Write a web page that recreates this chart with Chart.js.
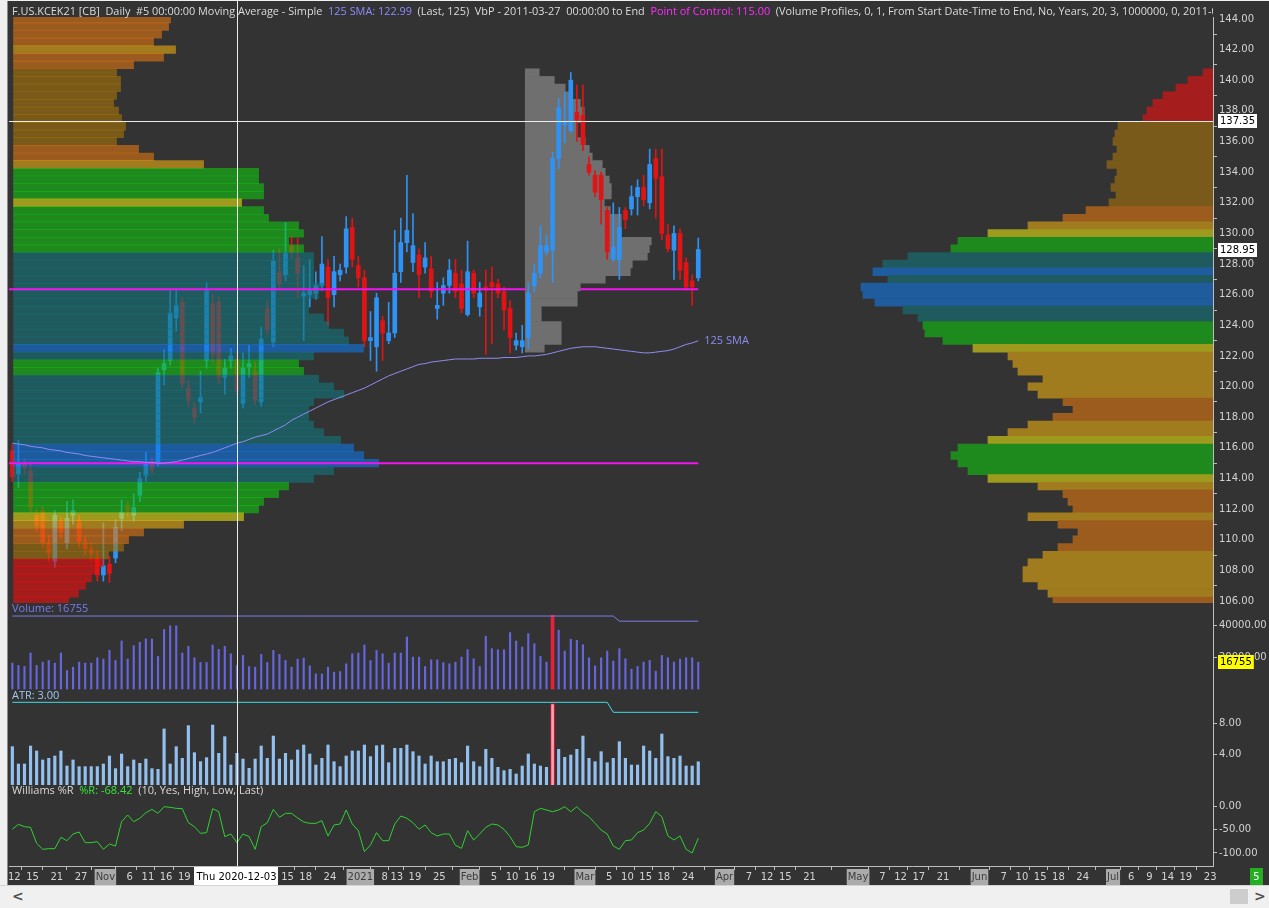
<!DOCTYPE html>
<html>
<head>
<meta charset="utf-8">
<script src="https://cdn.jsdelivr.net/npm/chart.js@4.4.0/dist/chart.umd.min.js"></script>
<style>
  html, body { margin: 0; padding: 0; background: #f0f0f0; }
  #wrap { position: relative; width: 1269px; height: 908px; overflow: hidden; }
  #chart { position: absolute; left: 0; top: 0; display: block; }
  #strip { position: absolute; left: 0; top: 885px; width: 1269px; height: 23px; background: #f0f0f0; border-top: 1px solid #d4d4d4; box-sizing: border-box; }
  #strip .arr { position: absolute; top: 2px; font: bold 14px "DejaVu Sans", sans-serif; color: #505050; }
  #strip .thumb { position: absolute; left: 1230px; top: 3px; width: 18px; height: 15px; background: #cdcdcd; }
</style>
</head>
<body>
<div id="wrap">
  <canvas id="chart" width="1269" height="885"></canvas>
  <div id="strip"><span class="arr" style="left:12px">&lt;</span><div class="thumb"></div><span class="arr" style="left:1254px">&gt;</span></div>
</div>
<script>
// KC May 2021 daily bars, 2020-10-12 .. 2021-03-26
const candleOpen = [
  115.8,114.3,115.0,114.5,111.6,111.9,109.8,108.6,111.2,109.8,
  111.6,111.2,109.8,109.4,108.8,107.7,108.4,108.8,111.4,112.2,
  111.6,112.9,114.2,115.1,115.0,121.1,121.7,124.5,125.5,119.9,
  118.6,119.0,121.7,125.4,125.5,120.6,121.7,121.8,118.9,121.3,
  121.0,119.0,125.1,122.9,127.5,127.3,129.2,128.4,125.9,126.0,
  126.1,126.6,127.8,126.0,127.3,127.8,130.4,127.9,127.1,123.0,
  122.6,124.3,123.0,123.5,127.5,129.4,128.1,128.6,127.8,127.7,
  125.1,126.1,126.6,127.4,126.7,124.7,127.4,125.2,126.5,126.8,
  126.7,126.2,125.1,122.7,122.6,123.2,126.6,127.4,128.8,128.9,
  134.9,137.1,136.7,137.9,137.7,134.5,133.8,133.8,131.5,128.3,
  128.3,131.5,131.6,132.4,133.0,132.0,134.9,133.7,129.9,128.9,
  130.0,128.1,126.9,127.1];
const candleHigh = [
  116.2,116.5,115.3,115.1,112.0,112.2,110.3,111.9,111.5,112.5,
  112.6,111.6,110.2,109.8,109.3,111.1,108.9,111.3,112.6,112.5,
  113.0,114.4,115.7,115.4,121.2,122.4,126.4,126.4,125.8,120.4,
  119.0,121.0,126.8,126.0,125.9,121.8,122.5,122.3,122.2,122.7,
  121.6,123.9,125.6,128.9,129.0,130.7,129.8,129.7,127.9,128.3,
  127.5,129.8,128.3,128.5,128.0,131.1,131.0,128.5,127.6,124.9,
  126.1,124.6,125.5,130.2,131.0,133.8,131.3,129.0,129.4,128.5,
  126.8,127.1,128.3,128.3,127.6,129.5,127.6,126.8,127.6,127.8,
  127.0,126.5,125.6,123.5,124.0,126.8,128.0,130.5,129.9,135.3,
  138.8,139.2,140.5,139.7,139.7,135.0,134.1,134.0,131.7,132.0,
  131.7,131.7,133.1,133.5,133.8,135.5,135.5,135.5,130.6,130.5,
  130.3,128.4,127.3,129.7];
const candleLow = [
  113.8,113.4,114.3,111.8,110.5,109.5,108.6,108.2,110.1,109.4,
  111.0,109.5,109.0,108.6,107.3,107.3,107.2,108.5,110.6,111.5,
  111.2,112.5,113.8,114.3,114.8,120.1,121.4,123.6,119.9,118.7,
  117.6,118.3,121.2,121.6,120.2,119.5,121.2,119.4,118.6,120.6,
  118.8,118.7,123.4,122.6,126.3,126.9,128.4,125.8,123.0,125.2,
  125.7,126.3,124.0,125.2,126.9,127.4,127.8,126.5,122.6,121.7,
  121.0,121.7,122.8,123.2,126.8,128.8,127.5,125.8,127.4,125.8,
  124.4,125.3,126.1,125.8,124.8,124.6,125.8,124.6,122.1,122.8,
  125.8,123.7,122.2,122.4,122.2,122.5,126.2,127.1,128.6,126.8,
  134.2,135.9,136.6,136.0,135.4,133.8,132.4,130.6,128.3,128.2,
  127.0,130.3,131.2,131.2,131.8,131.6,131.0,129.6,128.8,127.0,
  127.0,126.3,125.3,126.9];
const candleClose = [
  114.1,115.0,114.7,112.1,110.9,109.8,109.1,111.6,110.5,111.4,
  111.9,109.9,109.4,109.1,107.7,108.3,107.8,110.8,111.8,111.9,
  112.1,114.0,115.0,114.6,120.9,121.5,124.8,125.3,120.2,119.1,
  118.0,119.3,126.3,122.1,120.6,121.2,122.0,119.7,121.2,121.5,
  119.1,123.1,123.7,128.2,126.7,128.7,128.8,127.4,126.1,126.3,
  126.6,128.0,125.8,127.5,127.6,130.3,128.3,127.1,123.0,123.2,
  125.8,123.5,123.5,127.4,129.4,130.2,129.2,127.3,128.4,126.2,
  125.3,126.6,127.6,126.2,125.1,127.5,126.1,126.1,126.3,126.5,
  126.1,125.0,123.2,123.0,123.0,126.1,127.4,129.2,129.2,134.9,
  138.2,137.3,140.0,137.4,135.8,134.0,132.7,132.2,128.8,129.1,
  130.4,130.9,132.4,133.0,132.2,134.5,133.6,130.0,129.0,130.0,
  127.6,126.5,126.5,128.95];

// 125 SMA
const sma125 = [
  116.3,116.25,116.2,116.1,116.05,116.0,115.9,115.85,115.8,115.7,
  115.65,115.6,115.5,115.45,115.4,115.35,115.3,115.25,115.2,115.15,
  115.1,115.1,115.05,115.05,115.0,115.0,115.05,115.1,115.2,115.3,
  115.4,115.5,115.6,115.7,115.85,116.0,116.15,116.3,116.4,116.55,
  116.7,116.8,116.9,117.1,117.3,117.5,117.8,118.0,118.2,118.4,
  118.6,118.8,119.0,119.15,119.3,119.45,119.6,119.75,119.9,120.1,
  120.3,120.5,120.7,120.85,121.0,121.15,121.3,121.45,121.5,121.6,
  121.65,121.7,121.75,121.8,121.8,121.8,121.8,121.85,121.85,121.85,
  121.85,121.9,121.9,121.9,121.95,122.0,122.0,122.05,122.1,122.2,
  122.3,122.4,122.5,122.55,122.6,122.6,122.6,122.55,122.5,122.45,
  122.4,122.35,122.3,122.25,122.2,122.2,122.25,122.3,122.35,122.45,
  122.6,122.75,122.85,122.99];

const volume = [
  16170,14700,14070,22470,14700,16800,17850,16170,22470,11550,
  13650,16800,16170,16170,19530,18690,24150,17850,30030,18690,
  27090,29190,31290,31290,20370,37170,39480,39480,22470,26670,
  19530,16590,16590,27510,24780,26670,22050,14700,21000,14070,
  13650,21630,16590,24150,21630,17850,13650,18690,19320,14490,
  9450,9450,13650,10500,10920,15750,22050,22470,27510,17850,
  24150,22050,16170,22470,22470,32550,19950,19950,14070,18270,
  18270,16590,15750,16800,19950,24570,18900,14070,32970,25200,
  24570,24570,35280,30030,26250,34650,28350,20370,16800,46000,
  36750,23730,31080,30450,27720,19530,14490,19530,23730,17430,
  25200,18900,12390,14070,16800,17850,11130,21000,19530,16800,
  18690,19530,19530,16755];
const volLimitX = [0, 99, 100, 113];
const volLimitY = [45600, 45600, 42400, 42400];

const atr = [
  4.95,2.71,2.71,5.03,4.39,3.23,3.44,3.74,4.39,2.45,
  3.23,2.37,2.37,2.37,2.37,2.71,3.74,2.11,4.00,2.37,
  3.23,2.80,3.35,2.11,2.02,7.23,2.71,4.95,3.44,7.66,
  4.17,3.01,3.53,7.74,4.09,6.24,2.58,4.09,3.35,2.15,
  3.35,5.03,3.44,6.32,3.35,4.09,3.23,4.52,5.16,4.00,
  2.58,3.44,5.16,3.01,2.37,3.74,4.39,4.39,5.16,3.66,
  5.07,5.16,2.88,4.73,4.73,5.16,4.30,3.74,2.71,3.74,
  3.01,3.01,3.31,3.44,2.88,5.03,3.01,2.37,4.60,3.44,
  2.28,1.85,2.02,1.42,2.45,4.00,2.71,2.45,2.28,10.50,
  4.60,3.57,3.87,4.60,6.32,3.44,3.01,4.30,2.88,3.44,
  5.59,3.44,2.58,2.58,5.03,4.39,3.44,6.58,3.66,3.44,
  3.74,2.45,2.45,3.00];
const atrLimitX = [0, 98, 99, 113];
const atrLimitY = [10.67, 10.67, 9.38, 9.38];

const willR = [
  -49.6,-39.0,-44.0,-45.4,-79.4,-92.2,-90.8,-90.8,-66.7,-73.8,
  -59.6,-55.3,-78.0,-78.0,-75.9,-92.2,-80.9,-85.1,-33.3,-19.1,
  -33.3,-26.2,-14.2,-7.1,-15.6,-1.4,-2.8,-5.0,-5.7,-35.5,
  -44.0,-58.2,-56.7,-5.7,-12.1,-65.2,-59.6,-78.0,-59.6,-65.2,
  -92.2,-44.0,-35.5,-7.1,-24.1,-15.6,-15.6,-25.5,-34.0,-36.9,
  -36.9,-31.2,-63.8,-40.4,-38.3,-8.5,-38.3,-52.5,-97.2,-83.0,
  -56.7,-73.8,-73.8,-38.3,-21.3,-26.2,-35.5,-49.6,-40.4,-56.7,
  -63.8,-59.6,-59.6,-83.7,-90.1,-52.5,-72.3,-59.6,-45.4,-38.3,
  -40.4,-49.6,-65.2,-86.5,-87.9,-83.0,-12.1,-5.0,-8.5,-12.1,
  -8.5,-1.4,-12.1,-1.4,-14.2,-22.7,-36.9,-51.1,-59.6,-85.1,
  -92.2,-73.8,-72.3,-56.7,-51.1,-36.9,-12.1,-22.7,-63.8,-72.3,
  -63.8,-92.2,-100.0,-68.42];

// volume-by-price rows, top to bottom
const profileLevels = [
  144.5,144,143.5,143,142.5,142,141.5,141,140.5,140,
  139.5,139,138.5,138,137.5,137,136.5,136,135.5,135,
  134.5,134,133.5,133,132.5,132,131.5,131,130.5,130,
  129.5,129,128.5,128,127.5,127,126.5,126,125.5,125,
  124.5,124,123.5,123,122.5,122,121.5,121,120.5,120,
  119.5,119,118.5,118,117.5,117,116.5,116,115.5,115,
  114.5,114,113.5,113,112.5,112,111.5,111,110.5,110,
  109.5,109,108.5,108,107.5,107,106.5,106];
// whole period profile (left)
const profileAll = [
  155,157,155,148,140,162,150,120,103,107,
  107,103,100,105,108,112,110,103,125,140,
  190,245,245,250,250,228,250,255,285,290,
  275,290,300,300,300,300,310,305,295,295,
  310,315,330,335,350,300,285,290,305,320,
  330,300,295,295,300,310,327,340,350,365,
  320,300,275,265,250,245,230,170,130,115,
  110,95,90,82,78,72,65,55];
// profile drawn from the right edge, levels 140.5 .. 106
const profileRight = [
  10,25,37,50,60,66,70,95,98,100,
  96,100,106,96,98,102,97,104,127,150,
  185,225,255,262,305,330,340,325,352,350,
  338,310,295,290,288,270,240,205,200,195,
  170,185,175,150,140,160,185,205,225,255,
  262,255,245,225,175,150,145,140,185,155,
  135,140,155,170,185,190,190,175,165,160];
// profile from 2021-02-16, levels 140.5 .. 122.5
const profileRecent = [
  14,29,40,45,55,59,59,52,52,60,
  64,67,77,80,84,86,86,79,85,96,
  96,96,126,124,122,107,105,80,55,52,
  52,16,16,36,36,36,19];
const pocLevels = [115.0, 126.35];

const priceTicks = [106,108,110,112,114,116,118,120,122,124,126,128,130,132,134,136,138,140,142,144];
const volTicks = [20000, 40000];
const atrTicks = [4, 8];
const wrTicks = [-100, -50, 0];
const xTickIdx = [0,3,7,11,15,19,22,25,28,45,48,52,57,61,63,66,70,75,79,82,85,88,94,98,101,104,107,111,
  117,121,124,127,131,139,143,146,149,153,159,163,166,169,172,176,181,184,187,190,193,197];
const xTickText = ['12','15','21','27','Nov','6','11','16','19','15','18','24','2021','8','13','19','25','Feb','5','10','16','19','Mar','5','10','15','18','24',
  'Apr','7','12','15','21','May','7','12','17','21','Jun','7','10','15','18','24','Jul','6','9','14','19','23'];
const monthTicks = new Set(['Nov','2021','Feb','Mar','Apr','May','Jun','Jul']);

const cursorBar = 37, cursorPrice = 137.35, cursorDate = 'Thu 2020-12-03';

// layout constants
const X_MIN = -0.55, X_MAX = 197.8;
const PX_PER_BAR = 6.069;
const ROW_PX = 7.7;
const LEFT_ANCHOR = 0.2, RECENT_ANCHOR = 84.5;
const BG = [51, 51, 51];
const FONT = '"DejaVu Sans", sans-serif';

const idx = candleClose.map((_, i) => i);
const candleColor = idx.map(i => candleClose[i] >= candleOpen[i] ? '#2f93f5' : '#e01414');

function heat(v, alpha) {
  let c;
  if (v < 92) c = [165, 29, 29];
  else if (v < 115) c = [122, 90, 26];
  else if (v < 162) c = [156, 92, 30];
  else if (v < 215) c = [160, 124, 30];
  else if (v < 245) c = [158, 154, 30];
  else if (v < 295) c = [30, 138, 30];
  else if (v < 336) c = [30, 90, 94];
  else c = [30, 92, 158];
  const d = c.map((x, k) => Math.max(0, Math.min(255, Math.round((x - (1 - alpha) * BG[k]) / alpha))));
  return `rgba(${d[0]},${d[1]},${d[2]},${alpha})`;
}

function profileSet(levels, vols, anchor, toLeft, colorFn, order) {
  return {
    type: 'bar', indexAxis: 'y', xAxisID: 'x', yAxisID: 'y', grouped: false, order,
    barThickness: ROW_PX, borderWidth: 0,
    data: levels.map((p, k) => {
      const w = vols[k] / PX_PER_BAR;
      return { y: p, x: toLeft ? [anchor - w, anchor] : [anchor, anchor + w] };
    }),
    backgroundColor: vols.map(colorFn)
  };
}

const rightLevels = profileLevels.slice(8);
const recentLevels = profileLevels.slice(8, 8 + profileRecent.length);
const recentEndAtPoc = RECENT_ANCHOR + profileRecent[recentLevels.indexOf(126.5)] / PX_PER_BAR;
const volAlert = idx.map(i => volume[i] > 0.95 * 45600);
const atrAlert = idx.map(i => atr[i] > 0.95 * 10.67);

const datasets = [
  { type: 'line', data: idx.map(i => ({ x: i, y: sma125[i] })), borderColor: '#8f8cf2', borderWidth: 1, pointRadius: 0, order: 0, yAxisID: 'y' },
  { type: 'line', data: [{ x: X_MIN, y: pocLevels[0] }, { x: 113, y: pocLevels[0] }], borderColor: '#f214f2', borderWidth: 2, pointRadius: 0, order: 1, yAxisID: 'y' },
  { type: 'line', data: [{ x: X_MIN, y: pocLevels[1] }, { x: RECENT_ANCHOR, y: pocLevels[1] }, { x: 90, y: null }, { x: recentEndAtPoc, y: pocLevels[1] }, { x: 113, y: pocLevels[1] }],
    borderColor: '#f214f2', borderWidth: 2, pointRadius: 0, spanGaps: false, order: 1, yAxisID: 'y' },
  profileSet(profileLevels, profileAll, LEFT_ANCHOR, false, v => heat(v, 0.6), 2),
  { type: 'bar', data: idx.map(i => ({ x: i, y: [candleOpen[i], candleClose[i]] })), backgroundColor: candleColor,
    barThickness: 4, minBarLength: 1, grouped: false, order: 3, yAxisID: 'y' },
  { type: 'bar', data: idx.map(i => ({ x: i, y: [candleLow[i], candleHigh[i]] })), backgroundColor: candleColor,
    barThickness: 1, grouped: false, order: 4, yAxisID: 'y' },
  profileSet(recentLevels, profileRecent, RECENT_ANCHOR, false, () => '#6f6f6f', 5),
  profileSet(rightLevels, profileRight, X_MAX, true, v => heat(v, 1), 6),

  { type: 'bar', data: idx.map(i => ({ x: i, y: volAlert[i] ? null : volume[i] })), backgroundColor: '#6565dc', barThickness: 1.5, grouped: false, yAxisID: 'yVol', order: 2 },
  { type: 'bar', data: idx.map(i => ({ x: i, y: volAlert[i] ? volume[i] : null })), backgroundColor: '#e8203c', barThickness: 3, grouped: false, yAxisID: 'yVol', order: 1 },
  { type: 'line', data: volLimitX.map((x, k) => ({ x, y: volLimitY[k] })), borderColor: '#7d7de6', borderWidth: 1, pointRadius: 0, yAxisID: 'yVol', order: 0 },

  { type: 'bar', data: idx.map(i => ({ x: i, y: atrAlert[i] ? null : atr[i] })), backgroundColor: '#93c0ee', barThickness: 2.5, grouped: false, yAxisID: 'yAtr', order: 2 },
  { type: 'bar', data: idx.map(i => ({ x: i, y: atrAlert[i] ? atr[i] : null })), backgroundColor: '#f5a3b3', borderColor: '#e5142c', borderWidth: 1, barThickness: 4, grouped: false, yAxisID: 'yAtr', order: 1 },
  { type: 'line', data: atrLimitX.map((x, k) => ({ x, y: atrLimitY[k] })), borderColor: '#3fdde6', borderWidth: 1, pointRadius: 0, yAxisID: 'yAtr', order: 0 },

  { type: 'line', data: idx.map(i => ({ x: i, y: willR[i] })), borderColor: '#2fd22f', borderWidth: 1, pointRadius: 0, yAxisID: 'yWr', order: 0 }
];

function rightAxis(min, max, weight, ticks) {
  return {
    type: 'linear', position: 'right', stack: 'panes', stackWeight: weight, min, max, offset: false,
    afterBuildTicks: s => { s.ticks = ticks.map(v => ({ value: v })); },
    afterFit: s => { s.width = 56; },
    grid: { drawOnChartArea: false, color: '#bdbdbd', tickLength: 4 },
    border: { color: '#bdbdbd' },
    ticks: { color: '#d2d2d2', font: { family: FONT, size: 10 }, padding: 2, callback: v => v.toFixed(2) }
  };
}

function label(ctx, x, y, parts) {
  let cx = x;
  for (const [t, col] of parts) {
    ctx.fillStyle = col;
    ctx.fillText(t, cx, y);
    cx += ctx.measureText(t).width;
  }
}

function axisBox(ctx, area, y, text, bg) {
  ctx.font = '10px ' + FONT;
  const w = ctx.measureText(text).width + 4;
  ctx.fillStyle = bg;
  ctx.fillRect(area.right + 5, Math.round(y) - 7, w, 14);
  ctx.fillStyle = '#000';
  ctx.textBaseline = 'middle';
  ctx.fillText(text, area.right + 7, Math.round(y));
}

const overlay = {
  id: 'overlay',
  beforeDraw(chart) {
    const c = chart.ctx;
    c.save();
    c.fillStyle = '#f0f0f0';
    c.fillRect(0, 0, chart.width, chart.height);
    c.fillStyle = '#333333';
    c.fillRect(7, 1, chart.width - 7, chart.height - 1);
    c.fillStyle = '#8c8c8c';
    c.fillRect(7, 1, 1, chart.height - 1);
    c.restore();
  },
  afterDraw(chart) {
    const c = chart.ctx, a = chart.chartArea, s = chart.scales;
    c.save();
    // crosshair
    const cx = Math.round(s.x.getPixelForValue(cursorBar)) + 0.5;
    const cy = Math.round(s.y.getPixelForValue(cursorPrice)) + 0.5;
    c.strokeStyle = '#ececec';
    c.lineWidth = 1;
    c.beginPath();
    c.moveTo(cx, 1); c.lineTo(cx, a.bottom);
    c.moveTo(a.left, cy); c.lineTo(a.right, cy);
    c.stroke();

    // title line
    c.save();
    c.beginPath(); c.rect(9, 0, a.right - 9, 18); c.clip();
    c.font = '10.9px "Open Sans", sans-serif';
    c.textBaseline = 'middle';
    label(c, 12, 12, [
      ['F.US.KCEK21 [CB]  Daily  #5 00:00:00 Moving Average - Simple  ', '#dcdcdc'],
      ['125 SMA: 122.99', '#8c8cff'],
      ['  (Last, 125)  VbP - 2011-03-27  00:00:00 to End  ', '#dcdcdc'],
      ['Point of Control: 115.00', '#ff2cff'],
      ['  (Volume Profiles, 0, 1, From Start Date-Time to End, No, Years, 20, 3, 1000000, 0, 2011-03-27 00:00:00)', '#dcdcdc']
    ]);
    c.restore();

    // panel captions
    c.font = '11px "Open Sans", sans-serif';
    c.textBaseline = 'middle';
    label(c, 12, s.yVol.top + 6, [['Volume: ' + volume[volume.length - 1], '#7b7bf2']]);
    label(c, 12, s.yAtr.top + 6, [['ATR: ' + atr[atr.length - 1].toFixed(2), '#9cc8f2']]);
    label(c, 12, s.yWr.top + 6, [['Williams %R  ', '#d8d8d8'], ['%R: ' + willR[willR.length - 1].toFixed(2), '#36e436'], ['  (10, Yes, High, Low, Last)', '#d8d8d8']]);

    // SMA tag
    const last = idx.length - 1;
    c.fillStyle = '#8f8cf2';
    c.fillText('125 SMA', s.x.getPixelForValue(last) + 6, s.y.getPixelForValue(sma125[last]));

    // value boxes on the price axis
    axisBox(c, a, s.y.getPixelForValue(cursorPrice), cursorPrice.toFixed(2), '#ffffff');
    axisBox(c, a, s.y.getPixelForValue(candleClose[last]), candleClose[last].toFixed(2), '#ffffff');
    axisBox(c, a, s.yVol.getPixelForValue(volume[last]), String(volume[last]), '#ffff00');

    // cursor date box
    c.font = '10px ' + FONT;
    const tw = c.measureText(cursorDate).width + 4;
    c.fillStyle = '#ffffff';
    c.fillRect(Math.round(cx - tw / 2) - 1, a.bottom + 1, Math.round(tw), 18);
    c.fillStyle = '#000';
    c.textAlign = 'center';
    c.fillText(cursorDate, cx - 1, a.bottom + 11);

    // bar counter box
    c.fillStyle = '#22b022';
    c.fillRect(1250, a.bottom + 2, 13, 17);
    c.fillStyle = '#ffffff';
    c.fillText('5', 1256.5, a.bottom + 11);
    c.restore();
  }
};

new Chart(document.getElementById('chart'), {
  data: { datasets },
  options: {
    responsive: false,
    animation: false,
    devicePixelRatio: 1,
    events: [],
    layout: { padding: { left: 9, top: 17, right: 0, bottom: 0 } },
    plugins: { legend: { display: false }, tooltip: { enabled: false } },
    scales: {
      x: {
        type: 'linear', position: 'bottom', min: X_MIN, max: X_MAX, offset: false,
        afterBuildTicks: s => { s.ticks = xTickIdx.map(v => ({ value: v })); },
        afterFit: s => { s.height = 19; },
        grid: { drawOnChartArea: false, color: '#bdbdbd', tickLength: 4 },
        border: { color: '#bdbdbd' },
        ticks: {
          autoSkip: false, maxRotation: 0, padding: 1, labelOffset: 2,
          font: { family: FONT, size: 10 },
          callback: v => xTickText[xTickIdx.indexOf(v)],
          color: ctx => monthTicks.has(ctx.tick && ctx.tick.label) ? '#3c3c3c' : '#d4d4d4',
          showLabelBackdrop: ctx => monthTicks.has(ctx.tick && ctx.tick.label),
          backdropColor: '#ababab',
          backdropPadding: { top: 2, bottom: 2, left: 1, right: 1 }
        }
      },
      y: rightAxis(105.87, 144.13, 586, priceTicks),
      yVol: rightAxis(-625, 53750, 87, volTicks),
      yAtr: rightAxis(0, 12.26, 95, atrTicks),
      yWr: rightAxis(-127.7, 44.7, 81, wrTicks)
    }
  },
  plugins: [overlay]
});
</script>
</body>
</html>
